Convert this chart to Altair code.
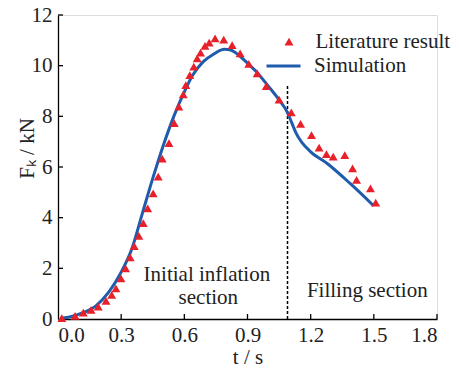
import altair as alt
import pandas as pd

# Literature result (triangles)
lit_t = [0.018, 0.081, 0.12, 0.157, 0.191, 0.228, 0.255, 0.275, 0.299, 0.321, 0.343, 0.362,
         0.384, 0.405, 0.426, 0.452, 0.476, 0.495, 0.527, 0.552, 0.574, 0.595, 0.607, 0.626,
         0.645, 0.661, 0.677, 0.698, 0.718, 0.746, 0.787, 0.827, 0.865, 0.906, 0.946, 0.989,
         1.05, 1.108, 1.152, 1.204, 1.24, 1.275, 1.307, 1.362, 1.399, 1.418, 1.484, 1.509]
lit_F = [0.03, 0.12, 0.25, 0.36, 0.49, 0.72, 0.95, 1.21, 1.60, 2.00, 2.43, 2.88,
         3.28, 3.78, 4.37, 4.96, 5.62, 6.33, 6.94, 7.73, 8.38, 8.87, 9.23, 9.63,
         9.96, 10.29, 10.51, 10.78, 10.91, 11.08, 11.03, 10.81, 10.49, 10.07, 9.70, 9.19,
         8.66, 8.16, 7.70, 7.26, 6.76, 6.51, 6.41, 6.47, 5.95, 5.49, 5.16, 4.59]

# Simulation (line)
sim_t = [0.01, 0.05, 0.11, 0.18, 0.24, 0.30, 0.35, 0.40, 0.45, 0.50, 0.55, 0.60, 0.64, 0.69,
         0.74, 0.79, 0.82, 0.86, 0.90, 0.94, 1.00, 1.05, 1.09, 1.11, 1.13, 1.16, 1.20, 1.28,
         1.39, 1.50]
sim_F = [0.03, 0.07, 0.22, 0.52, 1.05, 1.85, 2.75, 4.15, 5.55, 6.85, 8.00, 8.97, 9.63, 10.16,
         10.46, 10.65, 10.62, 10.40, 10.10, 9.78, 9.18, 8.65, 8.15, 7.75, 7.35, 6.95, 6.60,
         6.13, 5.33, 4.46]

x_ticks = [0.0, 0.3, 0.6, 0.9, 1.2, 1.5, 1.8]
y_ticks = [0, 2, 4, 6, 8, 10, 12]

split_t = 1.09
split_top = 9.2

ann_text = ["Initial inflation", "section", "Filling section"]
ann_t = [0.707, 0.714, 1.469]
ann_F = [1.50, 0.58, 0.88]

FONT = "Liberation Serif"
FS = 21
TXT = "#222"
W, H = 379, 304

xs = alt.Scale(domain=[0, 1.8], nice=False, zero=False)
ys = alt.Scale(domain=[0, 12], nice=False)

lit = pd.DataFrame({"t": lit_t, "F": lit_F, "s": "Literature result"})
sim = pd.DataFrame({"t": sim_t, "F": sim_F, "s": "Simulation"})

base_x_axis = alt.Axis(values=x_ticks, format=".1f", ticks=False, grid=False,
                       domainColor="black", domainWidth=1.3, labelFont=FONT,
                       labelFontSize=FS, labelColor=TXT, labelPadding=5,
                       title="t / s", titleFont=FONT, titleFontSize=FS,
                       titleFontWeight="normal", titleColor=TXT,
                       titleX=W / 2, titleY=44, titleBaseline="alphabetic")
base_y_axis = alt.Axis(values=y_ticks, format="d", ticks=False, grid=False,
                       domainColor="black", domainWidth=1.3, labelFont=FONT,
                       labelFontSize=FS, labelColor=TXT, labelPadding=6,
                       title="Fₖ / kN", titleFont=FONT, titleFontSize=FS,
                       titleFontWeight="normal", titleColor=TXT,
                       titleX=-25, titleY=133, titleAngle=270,
                       titleBaseline="alphabetic", titleAlign="center")

points = alt.Chart(lit).mark_point(shape="triangle-up", filled=True, size=80, opacity=1).encode(
    x=alt.X("t:Q", scale=xs, axis=base_x_axis),
    y=alt.Y("F:Q", scale=ys, axis=base_y_axis),
    fill=alt.Fill("s:N", scale=alt.Scale(domain=["Literature result"], range=["#e8202a"]),
                  legend=alt.Legend(title=None, orient="none", legendX=220.5, legendY=16.2,
                                    symbolSize=80, symbolType="triangle-up",
                                    labelFont=FONT, labelFontSize=FS, labelColor=TXT,
                                    labelOffset=16, padding=0)),
)

line = alt.Chart(sim).mark_line(strokeWidth=3, interpolate="monotone").encode(
    x=alt.X("t:Q", scale=xs),
    y=alt.Y("F:Q", scale=ys),
    stroke=alt.Stroke("s:N", scale=alt.Scale(domain=["Simulation"], range=["#1f5cac"]),
                      legend=alt.Legend(title=None, orient="none", legendX=207, legendY=32.5,
                                        symbolSize=1156, symbolType="stroke",
                                        symbolStrokeWidth=3,
                                        labelFont=FONT, labelFontSize=FS, labelColor=TXT,
                                        labelOffset=12, padding=0)),
)

split = alt.Chart(pd.DataFrame({"t": [split_t], "F0": [0], "F1": [split_top]})).mark_rule(
    color="black", strokeWidth=1.5, strokeDash=[3, 2]
).encode(x=alt.X("t:Q", scale=xs), y=alt.Y("F0:Q", scale=ys), y2="F1:Q")

ann = alt.Chart(pd.DataFrame({"t": ann_t, "F": ann_F, "txt": ann_text})).mark_text(
    font=FONT, fontSize=FS, color=TXT, align="center", baseline="alphabetic"
).encode(x=alt.X("t:Q", scale=xs), y=alt.Y("F:Q", scale=ys), text="txt:N")

xt = alt.Chart(pd.DataFrame({"v": x_ticks[1:]})).mark_rule(color="black", strokeWidth=1.3).encode(
    x=alt.X("v:Q", scale=xs), y=alt.value(H), y2=alt.value(H - 5))
yt = alt.Chart(pd.DataFrame({"v": y_ticks[1:]})).mark_rule(color="black", strokeWidth=1.3).encode(
    y=alt.Y("v:Q", scale=ys), x=alt.value(0), x2=alt.value(5))

chart = alt.layer(split, line, points, ann, xt, yt).resolve_legend(
    fill="independent", stroke="independent"
).properties(
    width=W, height=H,
    autosize=alt.AutoSizeParams(type="none"),
    padding={"left": 58, "top": 15, "right": 22, "bottom": 49},
).configure_view(stroke=None).configure(background="white")

chart.save("out.html", embed_options={"renderer": "svg", "actions": False})
